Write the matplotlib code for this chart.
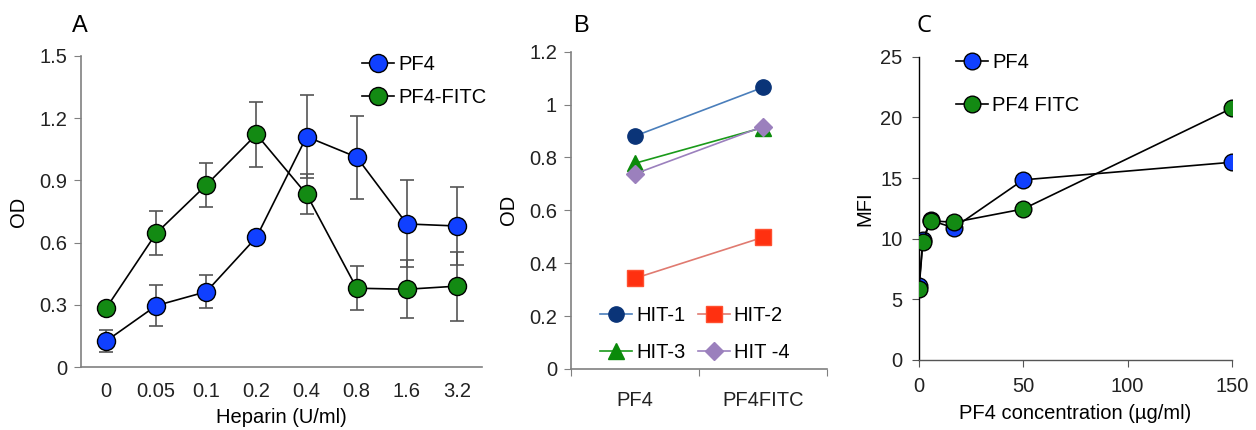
import numpy as np
import matplotlib
matplotlib.use("Agg")
import matplotlib.pyplot as plt

plt.rcParams['font.family'] = ['Liberation Sans', 'DejaVu Sans']

# Panel A data
heparin = ['0', '0.05', '0.1', '0.2', '0.4', '0.8', '1.6', '3.2']
a_pf4 = [0.125, 0.296, 0.363, 0.626, 1.111, 1.012, 0.690, 0.680]
a_pf4_err = [0.055, 0.10, 0.08, 0.0, 0.20, 0.20, 0.21, 0.19]
a_fitc = [0.283, 0.645, 0.878, 1.122, 0.833, 0.380, 0.375, 0.390]
a_fitc_err = [0.0, 0.105, 0.107, 0.155, 0.097, 0.105, 0.14, 0.167]

# Panel B data
b_groups = ['PF4', 'PF4FITC']
hit1 = [0.881, 1.065]
hit2 = [0.343, 0.498]
hit3 = [0.778, 0.913]
hit4 = [0.738, 0.917]

# Panel C data
conc = [0, 1.85, 5.56, 16.7, 50, 150]
c_pf4 = [6.1, 9.9, 11.5, 10.9, 14.85, 16.3]
c_fitc = [5.83, 9.75, 11.48, 11.35, 12.45, 20.75]

BLUE = '#1040ff'
GREEN = '#138a13'
GRAY = '#808080'
FS = 14.5

fig = plt.figure(figsize=(12.56, 4.30), dpi=100)

# ---------------- Panel A ----------------
axA = fig.add_axes([0.0645, 0.1465, 0.3193, 0.7233])
xa = np.arange(len(heparin))
axA.errorbar(xa, a_pf4, yerr=a_pf4_err, fmt='none', ecolor='#555555',
             elinewidth=1.2, capsize=5, capthick=1.2, zorder=2)
axA.errorbar(xa, a_fitc, yerr=a_fitc_err, fmt='none', ecolor='#555555',
             elinewidth=1.2, capsize=5, capthick=1.2, zorder=2)
axA.plot(xa, a_pf4, '-o', color='black', lw=1.2, ms=13, mfc=BLUE, mec='black',
         mew=1, label='PF4', zorder=3)
axA.plot(xa, a_fitc, '-o', color='black', lw=1.2, ms=13, mfc=GREEN, mec='black',
         mew=1, label='PF4-FITC', zorder=3)
axA.set_xlim(-0.5, len(heparin) - 0.5)
axA.set_ylim(0, 1.5)
axA.set_yticks([0, 0.3, 0.6, 0.9, 1.2, 1.5])
axA.set_yticklabels(['0', '0.3', '0.6', '0.9', '1.2', '1.5'])
axA.set_xticks(xa)
axA.set_xticklabels(heparin)
axA.tick_params(axis='x', length=0, pad=11)
axA.tick_params(axis='y', length=5, color=GRAY, pad=5)
axA.tick_params(labelsize=FS, labelcolor='#222222')
axA.set_xlabel('Heparin (U/ml)', fontsize=FS, labelpad=5)
axA.set_ylabel('OD', fontsize=FS, labelpad=8)
for s in ['top', 'right']:
    axA.spines[s].set_visible(False)
for s in ['left', 'bottom']:
    axA.spines[s].set_color(GRAY)
    axA.spines[s].set_linewidth(1.2)
axA.legend(loc='upper left', bbox_to_anchor=(0.68, 1.03), frameon=False,
           fontsize=FS, handlelength=1.6, handletextpad=0.2, labelspacing=0.72,
           borderaxespad=0)
fig.text(0.057, 0.925, 'A', fontsize=17)

# ---------------- Panel B ----------------
axB = fig.add_axes([0.4546, 0.1419, 0.2038, 0.7379])
xb = np.arange(len(b_groups)) + 0.5
l1, = axB.plot(xb, hit1, '-o', color='#4a7ebb', lw=1.2, ms=11, mfc='#0a3478',
               mec='#0a3478', label='HIT-1')
l2, = axB.plot(xb, hit2, '-s', color='#e07a70', lw=1.2, ms=11, mfc='#ff3010',
               mec='#ff5030', label='HIT-2')
l3, = axB.plot(xb, hit3, '-^', color='#1a9a1a', lw=1.2, ms=11, mfc='#0a8a0a',
               mec='#0a8a0a', label='HIT-3')
l4, = axB.plot(xb, hit4, '-D', color='#9b80bd', lw=1.2, ms=9, mfc='#9b80bd',
               mec='#9b80bd', label='HIT -4')
axB.set_xlim(0, 2)
axB.set_ylim(0, 1.2)
axB.set_yticks([0, 0.2, 0.4, 0.6, 0.8, 1.0, 1.2])
axB.set_yticklabels(['0', '0.2', '0.4', '0.6', '0.8', '1', '1.2'])
axB.set_xticks([0, 1, 2])
axB.set_xticklabels([])
axB.set_xticks(xb, minor=True)
axB.set_xticklabels(b_groups, minor=True)
axB.tick_params(axis='x', which='major', length=5, color=GRAY, direction='out')
axB.tick_params(axis='x', which='minor', length=0, pad=16)
axB.tick_params(axis='y', length=5, color=GRAY, pad=5)
axB.tick_params(which='both', labelsize=FS, labelcolor='#222222')
axB.set_ylabel('OD', fontsize=FS, labelpad=8)
for s in ['top', 'right']:
    axB.spines[s].set_visible(False)
for s in ['left', 'bottom']:
    axB.spines[s].set_color(GRAY)
    axB.spines[s].set_linewidth(1.2)
axB.legend(handles=[l1, l3, l2, l4], loc='lower left', bbox_to_anchor=(0.082, -0.002),
           ncol=2, frameon=False, fontsize=FS, handlelength=1.6, handletextpad=0.2,
           labelspacing=0.85, columnspacing=0.6, borderaxespad=0)
fig.text(0.456, 0.925, 'B', fontsize=17)

# ---------------- Panel C ----------------
axC = fig.add_axes([0.7317, 0.1628, 0.2490, 0.7053])
axC.plot(conc, c_pf4, '-o', color='black', lw=1.2, ms=12, mfc=BLUE, mec='black',
         mew=1, label='PF4', zorder=3)
axC.plot(conc, c_fitc, '-o', color='black', lw=1.2, ms=12, mfc=GREEN, mec='black',
         mew=1, label='PF4 FITC', zorder=4)
axC.set_xlim(0, 150)
axC.set_ylim(0, 25)
axC.set_xticks([0, 50, 100, 150])
axC.set_yticks([0, 5, 10, 15, 20, 25])
axC.tick_params(length=5, color='#555555', pad=7)
axC.tick_params(labelsize=FS, labelcolor='#222222')
axC.set_xlabel('PF4 concentration (\u00b5g/ml)', fontsize=FS, labelpad=6)
axC.set_ylabel('MFI', fontsize=FS, labelpad=4)
for s in ['top', 'right']:
    axC.spines[s].set_visible(False)
for s in ['left', 'bottom']:
    axC.spines[s].set_color('black')
    axC.spines[s].set_linewidth(1.0)
axC.spines['bottom'].set_color('#555555')
axC.legend(loc='upper left', bbox_to_anchor=(0.092, 1.04), frameon=False,
           fontsize=FS, handlelength=1.6, handletextpad=0.2, labelspacing=1.2,
           borderaxespad=0)
fig.text(0.730, 0.925, 'C', fontsize=17, family=['Open Sans', 'DejaVu Sans'])

fig.savefig('out.png', dpi=100)
